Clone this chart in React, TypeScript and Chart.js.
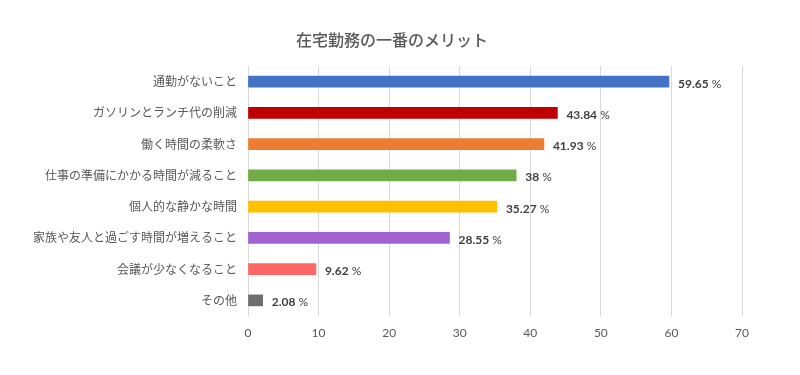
import React, { useEffect, useRef } from "react";
import { Chart, registerables } from "chart.js";

Chart.register(...registerables);

const titleText = "在宅勤務の一番のメリット";
const categories = [
  "通勤がないこと",
  "ガソリンとランチ代の削減",
  "働く時間の柔軟さ",
  "仕事の準備にかかる時間が減ること",
  "個人的な静かな時間",
  "家族や友人と過ごす時間が増えること",
  "会議が少なくなること",
  "その他",
];
const values = [59.65, 43.84, 41.93, 38, 35.27, 28.55, 9.62, 2.08];
const barColors = ["#4472C4", "#C00000", "#ED7D31", "#70AD47", "#FFC000", "#A061D1", "#FF6666", "#6E6E6E"];
const xMin = 0;
const xMax = 70;
const xStep = 10;

const JP = "'Noto Sans CJK JP', 'Noto Sans', sans-serif";
const NUM = "Lato, 'Noto Sans', sans-serif";

const titlePlugin = {
  id: "customTitle",
  afterDraw(chart: any) {
    const ctx = chart.ctx;
    ctx.save();
    ctx.font = `500 16px ${JP}`;
    ctx.fillStyle = "#595959";
    ctx.textAlign = "center";
    ctx.textBaseline = "middle";
    ctx.fillText(titleText, 392, 40);
    ctx.restore();
  },
};

const trianglePlugin = {
  id: "whiteTriangle",
  beforeDatasetsDraw(chart: any) {
    const ctx = chart.ctx;
    const area = chart.chartArea;
    ctx.save();
    ctx.beginPath();
    ctx.rect(area.left, area.top - 10, area.right - area.left, area.bottom - area.top + 10);
    ctx.clip();
    ctx.fillStyle = "#ffffff";
    ctx.beginPath();
    ctx.moveTo(500, 245);
    ctx.lineTo(545, 375);
    ctx.lineTo(452, 375);
    ctx.closePath();
    ctx.fill();
    ctx.restore();
  },
};

const valueLabelPlugin = {
  id: "valueLabels",
  afterDatasetsDraw(chart: any) {
    const ctx = chart.ctx;
    const meta = chart.getDatasetMeta(0);
    ctx.save();
    ctx.textBaseline = "middle";
    ctx.textAlign = "left";
    meta.data.forEach((bar: any, i: number) => {
      const num = String(values[i]);
      const x = bar.x + 9;
      const y = bar.y + 2;
      ctx.font = `bold 12px ${NUM}`;
      ctx.fillStyle = "#404040";
      ctx.fillText(num, x, y);
      const w = ctx.measureText(num).width;
      ctx.font = `12px ${NUM}`;
      ctx.fillText(" %", x + w, y);
    });
    ctx.restore();
  },
};

export default function App() {
  const ref = useRef<HTMLCanvasElement>(null);
  useEffect(() => {
    if (!ref.current) return;
    const chart = new Chart(ref.current, {
      type: "bar",
      data: {
        labels: categories,
        datasets: [
          {
            data: values,
            backgroundColor: barColors,
            barThickness: 11,
            borderWidth: 0,
          },
        ],
      },
      plugins: [titlePlugin, trianglePlugin, valueLabelPlugin],
      options: {
        indexAxis: "y",
        animation: false,
        responsive: false,
        maintainAspectRatio: false,
        layout: { padding: { top: 66, left: 0, right: 58, bottom: 0 } },
        plugins: {
          legend: { display: false },
          title: { display: false },
          tooltip: { enabled: false },
        },
        scales: {
          x: {
            min: xMin,
            max: xMax,
            ticks: {
              stepSize: xStep,
              color: "#595959",
              font: { family: NUM, size: 12 },
              padding: 10,
            },
            grid: { color: "#d9d9d9", drawTicks: false, lineWidth: 1 },
            border: { display: false },
            afterFit(scale: any) {
              scale.height = 59;
            },
          },
          y: {
            ticks: {
              color: "#595959",
              font: { family: JP, size: 12 },
              padding: 11,
            },
            grid: { display: false, drawTicks: false },
            border: { display: false },
            afterFit(scale: any) {
              scale.width = 248;
            },
          },
        },
      },
    });
    return () => chart.destroy();
  }, []);
  return (
    <div style={{ position: "fixed", left: 0, top: 0, width: 800, height: 375, background: "#fff" }}>
      <canvas ref={ref} width={800} height={375} style={{ width: 800, height: 375, display: "block" }} />
    </div>
  );
}
